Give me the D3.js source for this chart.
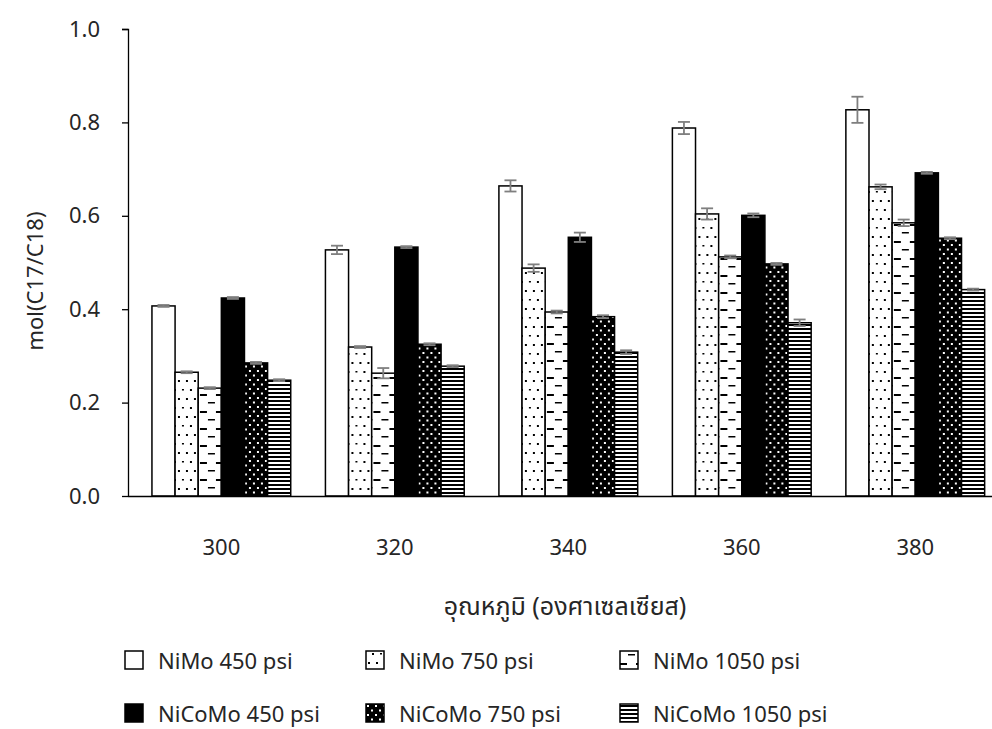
<!DOCTYPE html>
<html>
<head>
<meta charset="utf-8">
<script src="https://cdn.jsdelivr.net/npm/d3@7"></script>
<style>
  body { margin: 0; background: #fff; }
  text { font-family: "Noto Sans", "Noto Sans Thai", "Open Sans", sans-serif; fill: #262626; }
</style>
</head>
<body>
<svg id="chart" width="992" height="729"></svg>
<script>
// temperatures (deg C)
var temps = ["300", "320", "340", "360", "380"];
var seriesNames = ["NiMo 450 psi", "NiMo 750 psi", "NiMo 1050 psi",
                   "NiCoMo 450 psi", "NiCoMo 750 psi", "NiCoMo 1050 psi"];

var nimo450 = [0.407, 0.527, 0.664, 0.788, 0.827];
var nimo750 = [0.265, 0.319, 0.488, 0.604, 0.662];
var nimo1050 = [0.231, 0.263, 0.394, 0.512, 0.585];
var nicomo450 = [0.424, 0.533, 0.554, 0.601, 0.692];
var nicomo750 = [0.285, 0.325, 0.384, 0.497, 0.552];
var nicomo1050 = [0.248, 0.278, 0.308, 0.371, 0.442];

var nimo450Err = [0.002, 0.009, 0.012, 0.013, 0.028];
var nimo750Err = [0.002, 0.002, 0.008, 0.012, 0.005];
var nimo1050Err = [0.002, 0.011, 0.003, 0.003, 0.007];
var nicomo450Err = [0.002, 0.002, 0.010, 0.004, 0.002];
var nicomo750Err = [0.002, 0.002, 0.003, 0.002, 0.002];
var nicomo1050Err = [0.002, 0.002, 0.004, 0.007, 0.002];

var yTicks = [0, 0.2, 0.4, 0.6, 0.8, 1.0];

var values = [nimo450, nimo750, nimo1050, nicomo450, nicomo750, nicomo1050];
var errors = [nimo450Err, nimo750Err, nimo1050Err, nicomo450Err, nicomo750Err, nicomo1050Err];
var fills = ["#fff", "url(#pDots)", "url(#pDash)", "#000", "url(#pConfetti)", "url(#pStripes)"];

var svg = d3.select("#chart");
var defs = svg.append("defs");

// sparse dotted pattern
var p = defs.append("pattern").attr("id", "pDots").attr("patternUnits", "userSpaceOnUse")
  .attr("width", 16).attr("height", 18);
p.append("rect").attr("width", 16).attr("height", 18).attr("fill", "#fff");
p.append("rect").attr("x", 2).attr("y", 2).attr("width", 2).attr("height", 2).attr("fill", "#000");
p.append("rect").attr("x", 10).attr("y", 2).attr("width", 2).attr("height", 2).attr("fill", "#000");
p.append("rect").attr("x", 6).attr("y", 11).attr("width", 2).attr("height", 2).attr("fill", "#000");
p.append("rect").attr("x", 14).attr("y", 11).attr("width", 2).attr("height", 1.5).attr("fill", "#000");

// dashed horizontal
p = defs.append("pattern").attr("id", "pDash").attr("patternUnits", "userSpaceOnUse")
  .attr("width", 16).attr("height", 17);
p.append("rect").attr("width", 16).attr("height", 17).attr("fill", "#fff");
p.append("rect").attr("x", 0).attr("y", 3).attr("width", 7).attr("height", 2).attr("fill", "#000");
p.append("rect").attr("x", 8).attr("y", 11).attr("width", 7).attr("height", 1.5).attr("fill", "#000");

// black with white dots
p = defs.append("pattern").attr("id", "pConfetti").attr("patternUnits", "userSpaceOnUse")
  .attr("width", 8).attr("height", 9);
p.append("rect").attr("width", 8).attr("height", 9).attr("fill", "#000");
p.append("rect").attr("x", 1).attr("y", 1).attr("width", 2).attr("height", 2).attr("fill", "#fff");
p.append("rect").attr("x", 5).attr("y", 5.5).attr("width", 2).attr("height", 2).attr("fill", "#fff");

// horizontal stripes
p = defs.append("pattern").attr("id", "pStripes").attr("patternUnits", "userSpaceOnUse")
  .attr("width", 4).attr("height", 4);
p.append("rect").attr("width", 4).attr("height", 4).attr("fill", "#fff");
p.append("rect").attr("y", 0).attr("width", 4).attr("height", 2).attr("fill", "#000");

var x0 = d3.scaleBand().domain(temps).range([134.6, 1002]).paddingInner(0.2).paddingOuter(0.1);
var x1 = d3.scaleBand().domain(d3.range(6)).range([0, x0.bandwidth()]);
var y = d3.scaleLinear().domain([0, 1]).range([496, 29]);

// y axis
var yAxis = svg.append("g").attr("transform", "translate(128,0)")
  .call(d3.axisLeft(y).tickValues(yTicks).tickFormat(d3.format(".1f")).tickSize(6).tickPadding(22));
yAxis.selectAll("path, line").attr("stroke", "#000").attr("stroke-width", 1.3);
yAxis.selectAll("text").style("font-size", "22px").style("fill", "#262626");
yAxis.select(".domain").attr("d", "M-6,29.5H0.5V496.5");

// bars
var groups = svg.append("g").selectAll("g")
  .data(temps).enter().append("g")
  .attr("transform", function(d) { return "translate(" + x0(d) + ",0)"; });

groups.selectAll("rect")
  .data(function(d, i) { return values.map(function(s, k) { return { k: k, v: s[i], e: errors[k][i] }; }); })
  .enter().append("rect")
  .attr("x", function(d) { return x1(d.k); })
  .attr("y", function(d) { return y(d.v); })
  .attr("width", x1.bandwidth())
  .attr("height", function(d) { return y(0) - y(d.v); })
  .attr("fill", function(d) { return fills[d.k]; })
  .attr("stroke", "#000")
  .attr("stroke-width", 1.5);

// error bars
var eb = groups.selectAll("g.err")
  .data(function(d, i) { return values.map(function(s, k) { return { k: k, v: s[i], e: errors[k][i] }; }); })
  .enter().append("g").attr("class", "err")
  .attr("stroke", "#7f7f7f").attr("stroke-width", 1.8);
eb.append("line")
  .attr("x1", function(d) { return x1(d.k) + x1.bandwidth() / 2; })
  .attr("x2", function(d) { return x1(d.k) + x1.bandwidth() / 2; })
  .attr("y1", function(d) { return y(d.v + d.e); })
  .attr("y2", function(d) { return y(d.v - d.e); });
eb.selectAll("line.cap")
  .data(function(d) { return [d.v + d.e, d.v - d.e].map(function(v) { return { k: d.k, v: v }; }); })
  .enter().append("line").attr("class", "cap")
  .attr("x1", function(d) { return x1(d.k) + x1.bandwidth() / 2 - 6; })
  .attr("x2", function(d) { return x1(d.k) + x1.bandwidth() / 2 + 6; })
  .attr("y1", function(d) { return y(d.v); })
  .attr("y2", function(d) { return y(d.v); });

// x axis
var xAxis = svg.append("g").attr("transform", "translate(0,496)")
  .call(d3.axisBottom(x0).tickSize(0).tickPadding(43));
xAxis.select(".domain").attr("d", "M128,0.5H992").attr("stroke", "#000").attr("stroke-width", 1.3);
xAxis.selectAll("text").style("font-size", "22px").style("fill", "#262626");

// axis titles
svg.append("text")
  .attr("transform", "translate(34,281) rotate(-90)")
  .attr("text-anchor", "middle").attr("dominant-baseline", "central")
  .style("font-size", "22px")
  .text("mol(C17/C18)");

svg.append("text")
  .attr("x", 565).attr("y", 605)
  .attr("text-anchor", "middle").attr("dominant-baseline", "central")
  .style("font-size", "25px")
  .text("อุณหภูมิ (องศาเซลเซียส)");

// legend
var legX = [125, 366, 620];
var legY = [660, 713];
var leg = svg.append("g").selectAll("g")
  .data(seriesNames).enter().append("g")
  .attr("transform", function(d, i) { return "translate(" + legX[i % 3] + "," + legY[Math.floor(i / 3)] + ")"; });
leg.append("rect")
  .attr("x", 0).attr("y", -9).attr("width", 18).attr("height", 18)
  .attr("fill", function(d, i) { return fills[i]; })
  .attr("stroke", "#000").attr("stroke-width", 1.5);
leg.append("text")
  .attr("x", 33).attr("y", 0)
  .attr("dominant-baseline", "central")
  .style("font-size", "22px")
  .text(function(d) { return d; });
</script>
</body>
</html>
